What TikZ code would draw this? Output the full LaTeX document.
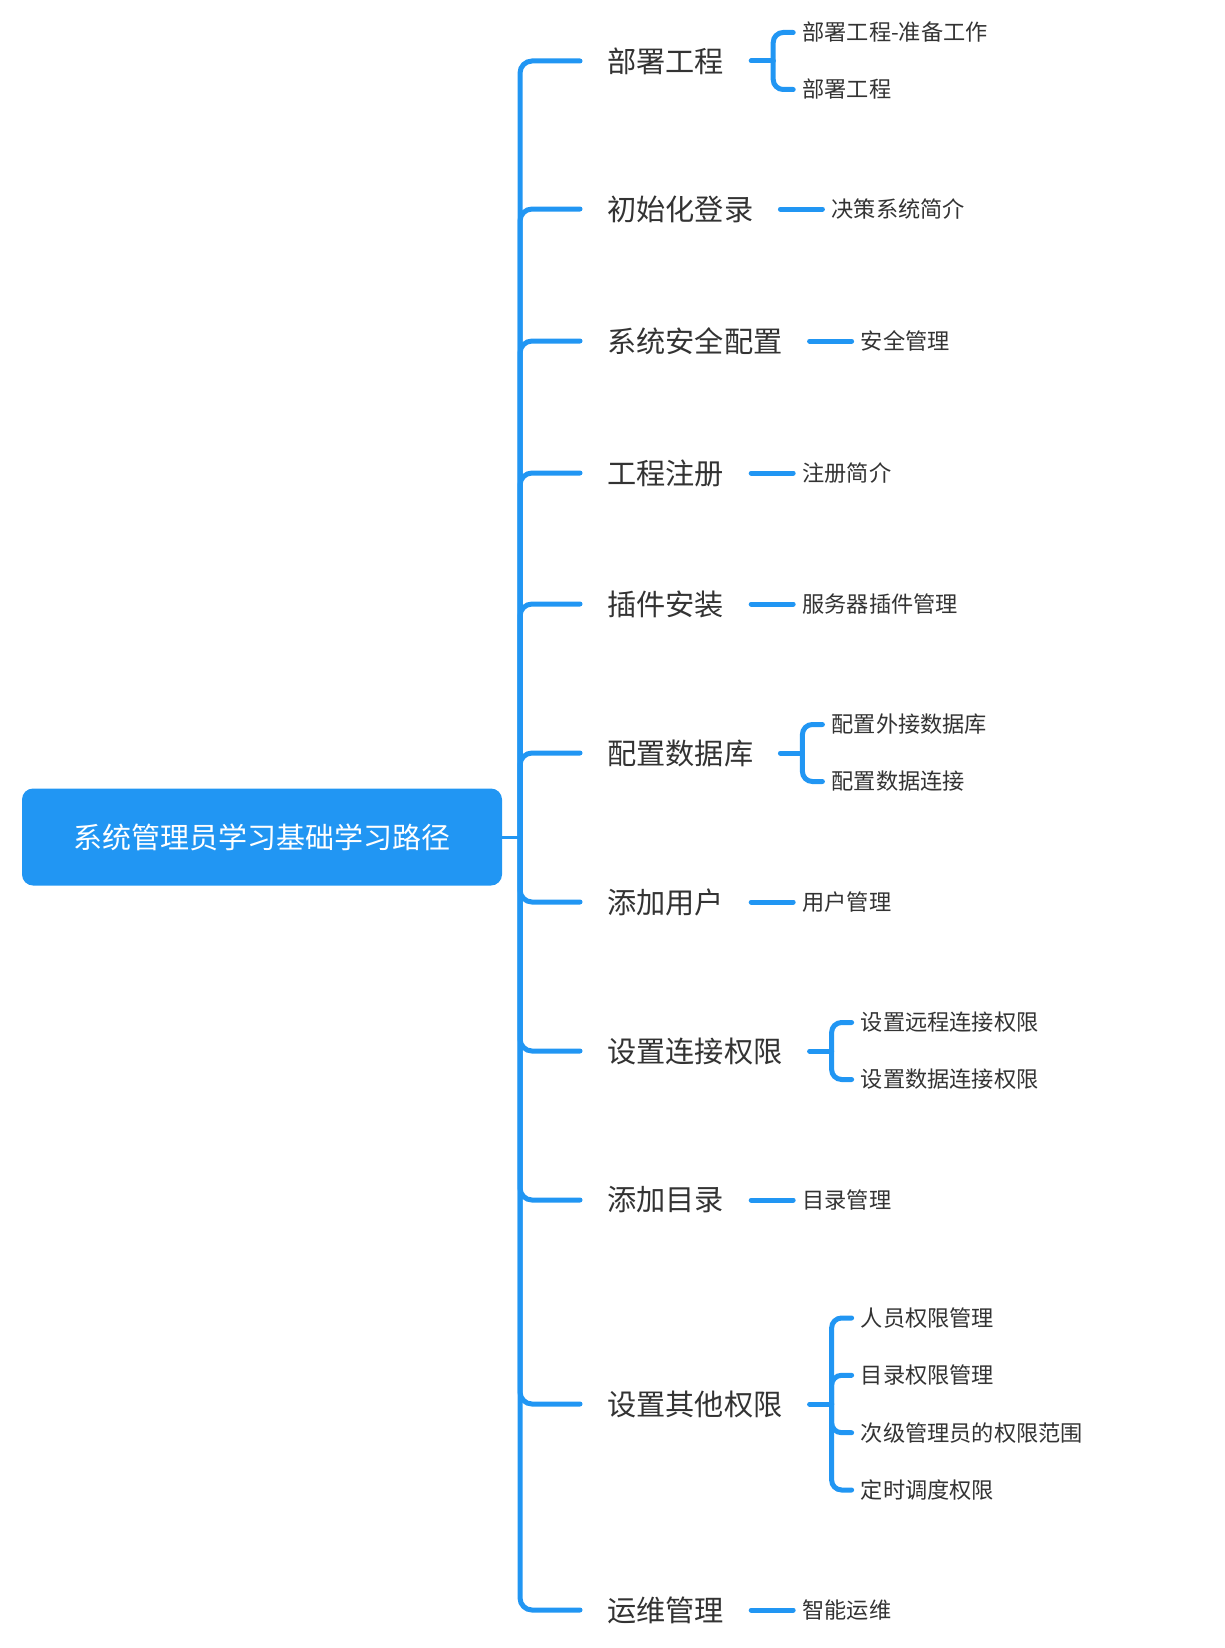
\documentclass[tikz,border=0pt]{standalone}
\usepackage{fontspec}
\newfontfamily\cjk{Noto Sans CJK SC}
\definecolor{mblue}{HTML}{2196F3}
\definecolor{mtext}{HTML}{333333}
\begin{document}
\begin{tikzpicture}[x=1pt,y=-1pt,
  conn/.style={draw=mblue, line width=5pt, line cap=round},
  lone/.style={font=\cjk\fontsize{29.2}{31}\selectfont, text=mtext, inner sep=0pt, anchor=west},
  ltwo/.style={font=\cjk\fontsize{22.2}{24}\selectfont, text=mtext, inner sep=0pt, anchor=west},
  rootbox/.style={fill=mblue, rounded corners=11pt, text=white, inner sep=0pt,
    minimum width=480pt, minimum height=97pt, font=\cjk\fontsize{29}{31}\selectfont}]
\useasboundingbox (0,0) rectangle (1224,1648);
\node[rootbox] (root) at (262,837) {系统管理员学习基础学习路径};
\coordinate (T) at (520,837);
\draw[conn, line width=3pt, line cap=butt] (root.east) -- (T);

\foreach \n/\y/\t in {1/61/部署工程, 2/209/初始化登录, 3/341/系统安全配置, 4/473/工程注册,
  5/604/插件安装, 6/753/配置数据库, 7/902/添加用户, 8/1051/设置连接权限,
  9/1200/添加目录, 10/1404/设置其他权限, 11/1610/运维管理} {
  \node[lone] (L\n) at (607,\y) {\t};
  \coordinate (B\n) at (580,\y);
  \draw[conn, rounded corners=12pt] (T) |- (B\n);
  \coordinate (S\n) at ([xshift=27pt]L\n.east);
}

% single children
\foreach \n/\t in {2/决策系统简介, 3/安全管理, 4/注册简介, 5/服务器插件管理,
  7/用户管理, 9/目录管理, 11/智能运维} {
  \path (S\n) ++(51,0) node[ltwo] (C\n) {\t};
  \draw[conn] (S\n) -- ([xshift=-9pt]C\n.west);
}

% multiple children
\foreach \n/\ta/\tb in {1/部署工程-准备工作/部署工程, 6/配置外接数据库/配置数据连接,
  8/设置远程连接权限/设置数据连接权限} {
  \coordinate (K\n) at ([xshift=22pt]S\n);
  \path (S\n) ++(51,-28.5) node[ltwo] (C\n a) {\ta};
  \path (S\n) ++(51,28.5) node[ltwo] (C\n b) {\tb};
  \draw[conn] (S\n) -- (K\n);
  \draw[conn, rounded corners=10pt] (K\n) |- ([xshift=-9pt]C\n a.west);
  \draw[conn, rounded corners=10pt] (K\n) |- ([xshift=-9pt]C\n b.west);
}

\coordinate (K10) at ([xshift=22pt]S10);
\path (S10) ++(51,-86) node[ltwo] (C10a) {人员权限管理};
\path (S10) ++(51,-28.7) node[ltwo] (C10b) {目录权限管理};
\path (S10) ++(51,28.7) node[ltwo] (C10c) {次级管理员的权限范围};
\path (S10) ++(51,86) node[ltwo] (C10d) {定时调度权限};
\draw[conn] (S10) -- (K10);
\foreach \c in {a,b,c,d} {
  \draw[conn, rounded corners=10pt] (K10) |- ([xshift=-9pt]C10\c.west);
}
\end{tikzpicture}
\end{document}
